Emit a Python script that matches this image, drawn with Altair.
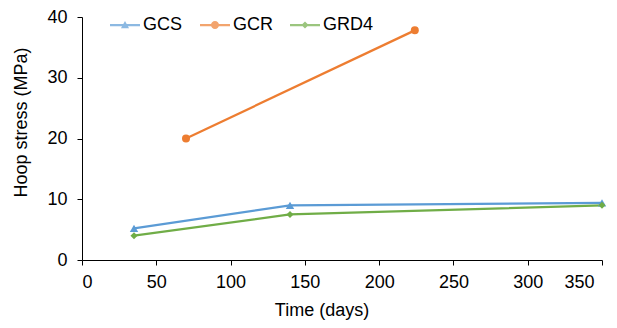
import altair as alt
import pandas as pd

series_names = ["GCS", "GCR", "GRD4"]
series_colors = ["#5B9BD5", "#ED7D31", "#70AD47"]
series_markers = ["triangle-up", "circle", "diamond"]

gcs_days = [35, 140, 350]
gcs_stress = [5.2, 9.0, 9.4]
gcr_days = [70, 224]
gcr_stress = [20.0, 37.8]
grd4_days = [35, 140, 350]
grd4_stress = [4.0, 7.5, 9.0]

x_ticks = [0, 50, 100, 150, 200, 250, 300, 350]
y_ticks = [0, 10, 20, 30, 40]

rows = []
for name, days, vals in [("GCS", gcs_days, gcs_stress), ("GCR", gcr_days, gcr_stress), ("GRD4", grd4_days, grd4_stress)]:
    for d, v in zip(days, vals):
        rows.append({"series": name, "days": d, "stress": v})
df = pd.DataFrame(rows)

# legend glyphs: line segment with marker on top
line_part = "M-1,-0.075L1,-0.075L1,0.075L-1,0.075Z"
legend_paths = [
    line_part + "M-0.27,0.22L0,-0.27L0.27,0.22Z",
    line_part + "M-0.27,0A0.27,0.27 0 1,1 0.27,0A0.27,0.27 0 1,1 -0.27,0Z",
    line_part + "M0,-0.24L0.24,0L0,0.24L-0.24,0Z",
]

color_scale = alt.Scale(domain=series_names, range=series_colors)

x_enc = alt.X("days:Q", scale=alt.Scale(domain=[0, 350], nice=False),
              axis=alt.Axis(values=x_ticks, title="Time (days)", titleX=239.5, titleY=55.5,
                            titleBaseline="alphabetic", labelPadding=8,
                            labelOffset={"condition": {"test": "datum.value == 350", "value": -8}, "value": 0}))
y_enc = alt.Y("stress:Q", scale=alt.Scale(domain=[0, 40], nice=False),
              axis=alt.Axis(values=y_ticks, title="Hoop stress (MPa)", titleX=-56, titleY=105,
                            titleBaseline="alphabetic", labelPadding=10))

base = alt.Chart(df)

legend_layer = base.transform_filter("false").mark_point(filled=True).encode(
    x=x_enc, y=y_enc,
    color=alt.Color("series:N", scale=color_scale,
                    legend=alt.Legend(title=None, orient="none", legendX=28, legendY=-7,
                                      direction="horizontal", symbolSize=900,
                                      symbolStrokeWidth=0, labelFontSize=18,
                                      labelOffset=3, columnPadding=17, padding=0,
                                      labelColor="#000000", labelFont="Liberation Sans")),
    shape=alt.Shape("series:N", scale=alt.Scale(domain=series_names, range=legend_paths)),
)

lines = base.mark_line(strokeWidth=2.25).encode(
    x=x_enc, y=y_enc,
    color=alt.Color("series:N", scale=color_scale, legend=None),
    detail="series:N",
)

point_layers = []
for name, marker, size in zip(series_names, series_markers, [70, 64, 50]):
    point_layers.append(
        base.transform_filter(alt.datum.series == name).mark_point(
            filled=True, shape=marker, size=size, opacity=1
        ).encode(
            x=x_enc, y=y_enc,
            color=alt.Color("series:N", scale=color_scale, legend=None),
        )
    )

chart = alt.layer(legend_layer, lines, *point_layers).properties(
    width=520, height=243,
    autosize=alt.AutoSizeParams(type="none"),
    padding={"left": 74, "top": 9, "right": 7, "bottom": 60},
).configure_view(stroke=None).configure_axis(
    grid=False, domainColor="#000000", tickColor="#000000", tickSize=5,
    labelFontSize=18, titleFontSize=18, titleFontWeight="normal",
    labelColor="#000000", titleColor="#000000",
    labelFont="Liberation Sans", titleFont="Liberation Sans",
    domainWidth=1, tickWidth=1,
)

chart.save("out.html", embed_options={"renderer": "svg", "actions": False})
